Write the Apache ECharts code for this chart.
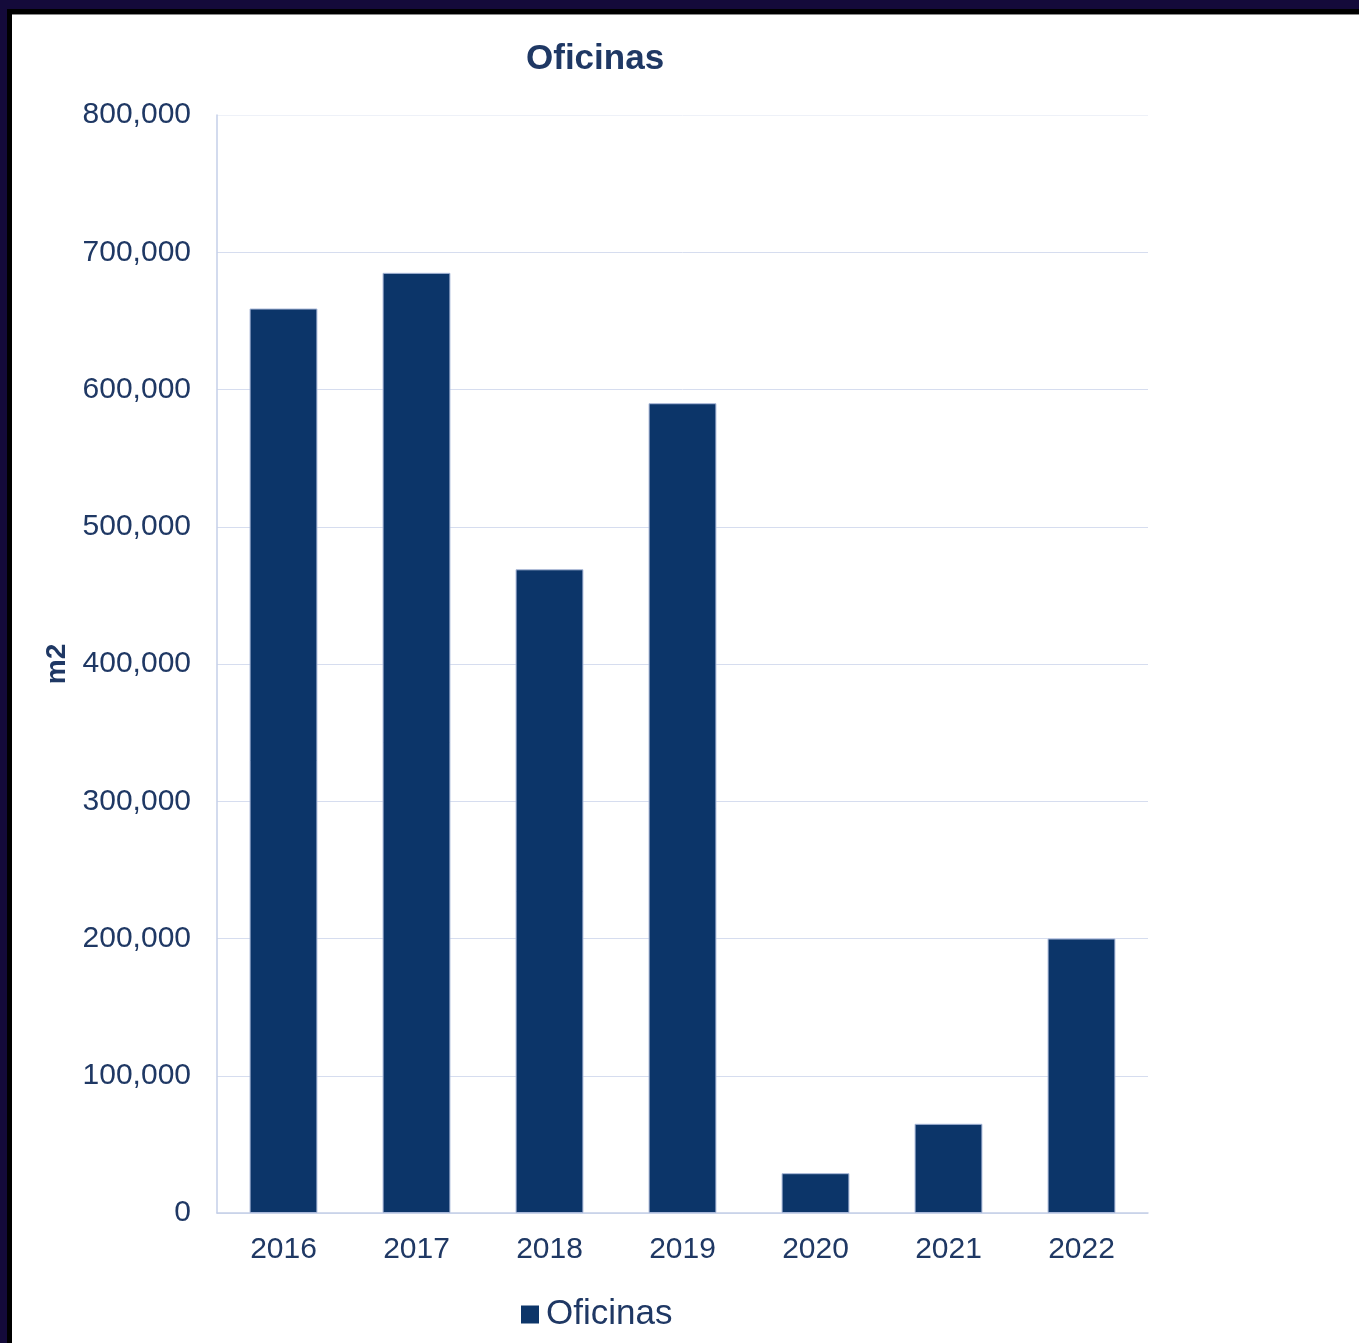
<!DOCTYPE html>
<html>
<head>
<meta charset="utf-8">
<script src="https://cdn.jsdelivr.net/npm/echarts@6/dist/echarts.min.js"></script>
<style>
  html, body { margin: 0; padding: 0; width: 1359px; height: 1343px; background: #140a3a; overflow: hidden; }
  #frame { position: absolute; left: 7px; top: 9px; right: 0; bottom: 0; background: #000; }
  #chart { position: absolute; left: 12px; top: 14px; width: 1347px; height: 1329px; background: #fff; border-top: 1px solid #888; box-sizing: border-box; }
</style>
</head>
<body>
<div id="frame"></div>
<div id="chart"></div>
<script>
const categories = ['2016', '2017', '2018', '2019', '2020', '2021', '2022'];
const oficinas = [659000, 685000, 469000, 590000, 29000, 65000, 200000];
const seriesName = 'Oficinas';
const chartTitle = 'Oficinas';
const yAxisName = 'm2';

const textColor = '#1f3864';
const chart = echarts.init(document.getElementById('chart'));
chart.setOption({
  animation: false,
  backgroundColor: '#fff',
  title: {
    text: chartTitle,
    left: 509, top: 22,
    textStyle: { fontFamily: 'Liberation Sans', fontWeight: 'bold', fontSize: 35, color: textColor }
  },
  legend: {
    data: [seriesName],
    left: 504, top: 1277,
    icon: 'rect', itemWidth: 18, itemHeight: 18,
    itemStyle: { borderWidth: 0 },
    textStyle: { fontFamily: 'Liberation Sans', fontSize: 35, color: textColor, padding: [0, 0, 0, 2] }
  },
  grid: { left: 205, top: 100, right: 211, bottom: 130, containLabel: false },
  xAxis: {
    type: 'category',
    data: categories,
    axisLine: { lineStyle: { color: '#c5cfe8', width: 1.5 } },
    axisTick: { show: false },
    axisLabel: { fontFamily: 'Liberation Sans', fontSize: 30, color: textColor, margin: 22 }
  },
  yAxis: {
    type: 'value',
    min: 0, max: 800000, interval: 100000,
    name: yAxisName,
    nameLocation: 'middle',
    nameRotate: 90,
    nameGap: 143,
    nameTextStyle: { fontFamily: 'Liberation Sans', fontWeight: 'bold', fontSize: 28, color: textColor },
    axisLine: { show: true, lineStyle: { color: '#c5cfe8', width: 1.5 } },
    axisTick: { show: false },
    splitLine: { lineStyle: { color: ['#d6ddef','#d6ddef','#d6ddef','#d6ddef','#d6ddef','#d6ddef','#d6ddef','#d6ddef','#eef1f8'], width: 1 } },
    axisLabel: {
      fontFamily: 'Liberation Sans', fontSize: 30, color: textColor, margin: 26,
      formatter: v => v.toString().replace(/\B(?=(\d{3})+(?!\d))/g, ',')
    }
  },
  series: [{
    name: seriesName,
    type: 'bar',
    data: oficinas,
    barWidth: '51%',
    itemStyle: { color: '#0c3569', borderColor: '#a8b7d8', borderWidth: 1 }
  }]
});
</script>
</body>
</html>
